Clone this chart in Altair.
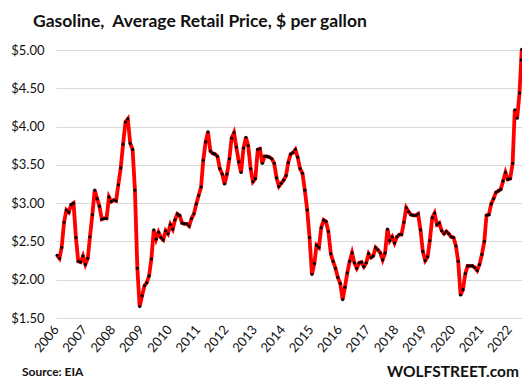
import altair as alt
import pandas as pd

# Monthly average retail price of gasoline, $ per gallon
p2006 = [2.32, 2.28, 2.42, 2.75, 2.91, 2.88, 2.98, 3.00, 2.55, 2.24, 2.23, 2.31]
p2007 = [2.20, 2.28, 2.56, 2.85, 3.17, 3.06, 2.96, 2.79, 2.80, 2.80, 3.08, 3.02]
p2008 = [3.04, 3.03, 3.24, 3.46, 3.77, 4.06, 4.10, 3.78, 3.70, 3.17, 2.15, 1.65]
p2009 = [1.79, 1.92, 1.96, 2.05, 2.27, 2.65, 2.53, 2.62, 2.55, 2.52, 2.64, 2.60]
p2010 = [2.72, 2.66, 2.78, 2.86, 2.84, 2.74, 2.73, 2.73, 2.70, 2.80, 2.86, 2.99]
p2011 = [3.10, 3.21, 3.56, 3.80, 3.93, 3.68, 3.65, 3.64, 3.61, 3.45, 3.38, 3.25]
p2012 = [3.38, 3.58, 3.85, 3.92, 3.73, 3.54, 3.40, 3.72, 3.86, 3.75, 3.45, 3.28]
p2013 = [3.32, 3.70, 3.71, 3.52, 3.61, 3.61, 3.60, 3.58, 3.52, 3.33, 3.22, 3.26]
p2014 = [3.30, 3.36, 3.53, 3.64, 3.66, 3.70, 3.60, 3.45, 3.39, 3.17, 2.91, 2.55]
p2015 = [2.07, 2.21, 2.45, 2.42, 2.68, 2.78, 2.76, 2.63, 2.34, 2.24, 2.15, 2.03]
p2016 = [1.95, 1.74, 1.90, 2.09, 2.24, 2.35, 2.22, 2.15, 2.22, 2.23, 2.17, 2.22]
p2017 = [2.34, 2.29, 2.31, 2.42, 2.39, 2.35, 2.26, 2.35, 2.66, 2.51, 2.56, 2.48]
p2018 = [2.56, 2.59, 2.59, 2.75, 2.94, 2.89, 2.85, 2.84, 2.84, 2.86, 2.65, 2.37]
p2019 = [2.25, 2.30, 2.51, 2.81, 2.87, 2.72, 2.74, 2.64, 2.60, 2.63, 2.60, 2.56]
p2020 = [2.55, 2.44, 2.24, 1.80, 1.87, 2.08, 2.18, 2.18, 2.18, 2.16, 2.12, 2.20]
p2021 = [2.33, 2.50, 2.84, 2.85, 2.99, 3.06, 3.14, 3.16, 3.18, 3.29, 3.40, 3.31]
p2022 = [3.32, 3.52, 4.22, 4.11, 4.44]

# last weekly readings of June 2022
june_dates = ["2022-06-06", "2022-06-13"]
june_prices = [4.87, 5.01]

years = list(range(2006, 2023))
series = [p2006, p2007, p2008, p2009, p2010, p2011, p2012, p2013, p2014,
          p2015, p2016, p2017, p2018, p2019, p2020, p2021, p2022]
y_ticks = [1.5, 2.0, 2.5, 3.0, 3.5, 4.0, 4.5, 5.0]

rows = []
for yr, vals in zip(years, series):
    for m, v in enumerate(vals, start=1):
        rows.append({"date": f"{yr}-{m:02d}-15", "price": v})
for d, v in zip(june_dates, june_prices):
    rows.append({"date": d, "price": v})
df = pd.DataFrame(rows)

FONT = "Lato"
TXT = "#111111"

x_enc = alt.X(
    "date:T",
    title=None,
    scale=alt.Scale(domain=["2006-01-01", "2022-06-16"]),
    axis=alt.Axis(
        values=[alt.DateTime(year=y, month=1, date=1) for y in years],
        format="%Y",
        labelAngle=-50,
        labelAlign="right",
        labelBaseline="middle",
        labelPadding=9,
        labelFontSize=13,
        labelFont=FONT,
        labelColor=TXT,
        ticks=False,
        domain=False,
        grid=False,
        labelOverlap=False,
    ),
)
y_enc = alt.Y(
    "price:Q",
    title=None,
    scale=alt.Scale(domain=[1.5, 5.0], nice=False, zero=False),
    axis=alt.Axis(
        values=y_ticks,
        format="$.2f",
        labelFontSize=13,
        labelFont=FONT,
        labelColor=TXT,
        labelPadding=12,
        ticks=False,
        domain=False,
        grid=True,
        gridColor="#D9D9D9",
        gridWidth=1,
    ),
)

base = alt.Chart(df).encode(x=x_enc, y=y_enc)
line = base.mark_line(color="#FF0000", strokeWidth=3.8)
dots = base.mark_circle(color="#000000", size=10, opacity=1)

src = alt.Chart(pd.DataFrame({"t": ["Source: EIA"]})).mark_text(
    font=FONT, fontSize=12, fontWeight="bold", color=TXT, align="left", baseline="alphabetic"
).encode(text="t:N", x=alt.value(-34), y=alt.value(326))

brand = alt.Chart(pd.DataFrame({"t": ["WOLFSTREET.com"]})).mark_text(
    font=FONT, fontSize=15.5, fontWeight="bold", color=TXT, align="right", baseline="alphabetic"
).encode(text="t:N", x=alt.value(463), y=alt.value(327))

chart = alt.layer(line, dots, src, brand).properties(
    width=466,
    height=268,
    autosize=alt.AutoSizeParams(type="none"),
    padding={"left": 48, "top": 42, "right": 0, "bottom": 62},
    title=alt.TitleParams(
        text="Gasoline,\u00a0 Average Retail Price, $ per gallon",
        font=FONT,
        fontSize=17.5,
        fontWeight="bold",
        color=TXT,
        anchor="start",
        frame="group",
        dx=-23,
        offset=11,
    ),
).configure_view(stroke=None)

chart.save("out.html", embed_options={"renderer": "svg", "actions": False})
